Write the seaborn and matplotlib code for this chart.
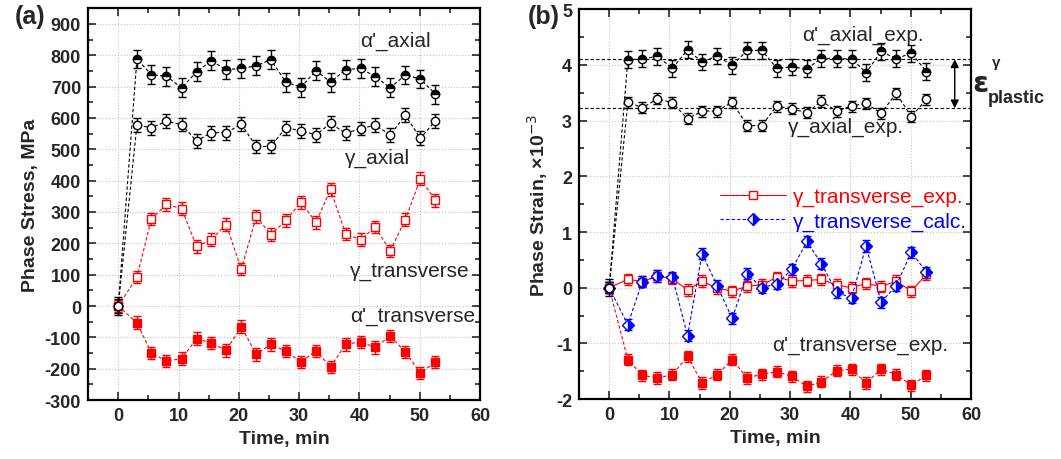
import matplotlib
matplotlib.use("Agg")
import matplotlib.pyplot as plt
from matplotlib.ticker import MultipleLocator
import seaborn as sns

sns.set_theme(style="ticks")
plt.rcParams["font.family"] = ["Liberation Sans", "DejaVu Sans"]
plt.rcParams["mathtext.fontset"] = "dejavusans"
plt.rcParams["axes.unicode_minus"] = False

# time points, min
time = [0, 3.1, 5.5, 8.0, 10.5, 13.0, 15.4, 17.9, 20.4, 22.9, 25.3, 27.8,
        30.3, 32.8, 35.2, 37.7, 40.2, 42.6, 45.1, 47.6, 50.1, 52.6]

# (a) phase stress, MPa
a_axial = [0, 788, 738, 733, 696, 747, 782, 754, 758, 766, 786, 714,
           698, 751, 714, 754, 758, 732, 696, 737, 724, 676]
g_axial = [0, 577, 569, 589, 579, 526, 553, 553, 580, 509, 509, 569,
           559, 546, 583, 551, 566, 577, 546, 609, 535, 591]
g_trans = [0, 92, 278, 324, 311, 190, 212, 260, 118, 286, 228, 273,
           331, 267, 372, 230, 212, 252, 176, 276, 406, 337]
a_trans = [0, -53, -150, -175, -168, -104, -118, -141, -66, -154, -122, -144,
           -178, -143, -194, -122, -114, -132, -96, -146, -214, -178]

# (b) phase strain, x1e-3
a_axial_exp = [0, 4.09, 4.11, 4.15, 3.94, 4.27, 4.05, 4.16, 3.99, 4.26, 4.26, 3.94,
               3.96, 3.93, 4.12, 4.11, 4.11, 3.86, 4.24, 4.11, 4.21, 3.88]
g_axial_exp = [0, 3.33, 3.23, 3.39, 3.32, 3.03, 3.17, 3.17, 3.33, 2.91, 2.91, 3.26,
               3.21, 3.14, 3.35, 3.17, 3.26, 3.31, 3.13, 3.49, 3.07, 3.38]
g_trans_exp = [0, 0.15, 0.11, 0.21, 0.16, -0.04, 0.12, -0.01, -0.06, 0.03, 0.05, 0.19,
               0.12, 0.13, 0.15, 0.05, 0.0, 0.08, 0.02, 0.12, -0.06, 0.24]
g_trans_calc = [0, -0.66, 0.11, 0.21, 0.19, -0.86, 0.61, 0.04, -0.55, 0.25, 0.0, 0.07,
                0.33, 0.83, 0.43, -0.08, -0.18, 0.75, -0.26, 0.04, 0.64, 0.28]
a_trans_exp = [0, -1.29, -1.57, -1.62, -1.56, -1.23, -1.71, -1.56, -1.29, -1.62, -1.55, -1.51,
               -1.59, -1.77, -1.69, -1.49, -1.46, -1.71, -1.46, -1.56, -1.75, -1.57]
eps_levels = [4.10, 3.22]

fig = plt.figure(figsize=(10.61, 4.6), dpi=100)
axa = fig.add_axes([0.083, 0.128, 0.3695, 0.852])
axb = fig.add_axes([0.5457, 0.13, 0.3695, 0.848])

eb = dict(ls=(0, (3, 2)), lw=0.8, ms=6, capsize=3, elinewidth=1, capthick=1, mew=1)

# panel (a)
axa.errorbar(time, g_trans, yerr=20, color="red", marker="s", mfc="white", mec="red", **eb)
axa.errorbar(time, a_trans, yerr=20, color="red", marker="s", mfc="red", mec="red", **eb)
axa.errorbar(time, a_axial, yerr=30, color="black", marker="o", mfc="black", mec="black",
             fillstyle="top", markerfacecoloralt="white", **eb)
axa.errorbar(time, g_axial, yerr=22, color="black", marker="o", mfc="white", mec="black", **eb)

axa.set_xlim(-5, 60)
axa.set_ylim(-300, 950)
axa.yaxis.set_major_locator(MultipleLocator(100))
axa.yaxis.set_minor_locator(MultipleLocator(50))
axa.set_ylabel("Phase Stress, MPa", fontsize=14, fontweight="bold")

ta = dict(fontsize=15, ha="center", va="center")
axa.text(46, 846, "α'_axial", **ta)
axa.text(43, 474, "γ_axial", **ta)
axa.text(48.4, 115, "γ_transverse", **ta)
axa.text(48.8, -29, "α'_transverse", **ta)

# panel (b)
for lvl in eps_levels:
    axb.axhline(lvl, color="black", lw=0.8, ls=(0, (3, 2)), zorder=1)
axb.errorbar(time, a_trans_exp, yerr=0.1, color="red", marker="s", mfc="red", mec="red", **eb)
eb_solid = dict(eb, ls="-")
e_exp = axb.errorbar(time, g_trans_exp, yerr=0.1, color="red", marker="s", mfc="white",
                     mec="red", **eb_solid)
e_calc = axb.errorbar(time, g_trans_calc, yerr=0.1, color="blue", marker="D", mfc="blue",
                      mec="blue", fillstyle="right", markerfacecoloralt="white", **eb)
axb.errorbar(time, a_axial_exp, yerr=0.15, color="black", marker="o", mfc="black", mec="black",
             fillstyle="top", markerfacecoloralt="white", **eb)
axb.errorbar(time, g_axial_exp, yerr=0.1, color="black", marker="o", mfc="white", mec="black", **eb)

axb.annotate("", xy=(57.3, eps_levels[0]), xytext=(57.3, eps_levels[1]),
             arrowprops=dict(arrowstyle="<|-|>", color="black", lw=1, mutation_scale=12,
                             shrinkA=0, shrinkB=0))

axb.set_xlim(-5, 60)
axb.set_ylim(-2, 5)
axb.yaxis.set_major_locator(MultipleLocator(1))
axb.yaxis.set_minor_locator(MultipleLocator(0.5))
axb.set_ylabel("Phase Strain, ×10$^{-3}$", fontsize=14, fontweight="bold")

axb.text(42, 4.54, "α'_axial_exp.", **ta)
axb.text(39.2, 2.9, "γ_axial_exp.", **ta)
axb.text(41.7, -1.01, "α'_transverse_exp.", **ta)

axb.legend([e_exp[0], e_calc[0]], ["γ_transverse_exp.", "γ_transverse_calc."],
           loc="upper right", bbox_to_anchor=(1.01, 0.565), frameon=False, fontsize=15,
           handlelength=3.2, handletextpad=0.3, labelspacing=0.25,
           labelcolor=["red", "blue"], borderaxespad=0)

for ax in (axa, axb):
    ax.xaxis.set_major_locator(MultipleLocator(10))
    ax.xaxis.set_minor_locator(MultipleLocator(5))
    ax.set_xlabel("Time, min", fontsize=14, fontweight="bold")
    ax.grid(True, which="major", ls=":", color="#c4c4c4", lw=0.8)
    ax.set_axisbelow(True)
    ax.tick_params(which="both", direction="in", top=True, right=True, width=1.2,
                   labelsize=13, pad=5)
    ax.tick_params(which="major", length=6)
    ax.tick_params(which="minor", length=3.5)
    for lab in ax.get_xticklabels() + ax.get_yticklabels():
        lab.set_fontweight("bold")
    for sp in ax.spines.values():
        sp.set_linewidth(1.6)
        sp.set_color("black")

fig.text(0.014, 0.962, "(a)", fontsize=18, fontweight="bold", va="center")
fig.text(0.497, 0.962, "(b)", fontsize=18, fontweight="bold", va="center")

# epsilon^gamma_plastic label
fig.text(0.924, 0.818, "ε", fontsize=21, fontweight="bold", va="center", ha="center",
         family="DejaVu Sans")
fig.text(0.939, 0.862, "γ", fontsize=11, fontweight="bold", va="center", ha="center")
fig.text(0.931, 0.785, "plastic", fontsize=13, fontweight="bold", va="center", ha="left")

fig.savefig("out.png", dpi=100)
